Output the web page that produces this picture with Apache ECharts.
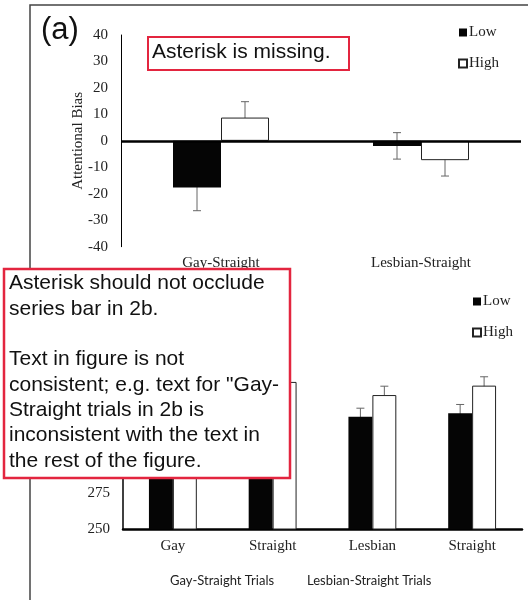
<!DOCTYPE html>
<html>
<head>
<meta charset="utf-8">
<script src="https://cdn.jsdelivr.net/npm/echarts@6/dist/echarts.min.js"></script>
<style>
  html, body { margin: 0; padding: 0; background: #fff; }
  #chart { width: 528px; height: 600px; }
</style>
</head>
<body>
<div id="chart"></div>
<script>
// panel (a): attentional bias
const catsA = ["Gay-Straight", "Lesbian-Straight"];
const lowA = [-17.6, -1.9];
const lowErrA = [8.8, 5.0];
const highA = [8.8, -7.3];
const highErrA = [6.0, 6.0];
const ticksA = { min: -40, max: 40, step: 10 };

// panel (b): reaction times
const catsB = ["Gay", "Straight", "Lesbian", "Straight"];
const lowB = [322, 334, 328.6, 331];
const lowErrB = [6, 6, 6, 6.2];
const highB = [342, 353, 343.8, 350.4];
const highErrB = [6, 6, 6.2, 6.2];
const ticksB = { min: 250, max: 400, step: 25 };

const groupLabels = ["Gay-Straight Trials", "Lesbian-Straight Trials"];
const note1 = "Asterisk is missing.";
const note2 = [
  "Asterisk should not occlude",
  "series bar in 2b.",
  "",
  "Text in figure is not",
  "consistent; e.g. text for \"Gay-",
  "Straight trials in 2b is",
  "inconsistent with the text in",
  "the rest of the figure."
];

const serif = "Liberation Serif";
const sans = "Liberation Sans";
const red = "#e3253f";

// error bars drawn next to the bar centre (barWidth 24%, barGap 0)
function errBar(sign) {
  return function (params, api) {
    const x = api.value(0), m = api.value(1), e = api.value(2);
    const band = api.size([1, 0])[0];
    const cx = api.coord([x, m])[0] + sign * band * 0.12;
    const yt = api.coord([x, m + e])[1];
    const yb = api.coord([x, m - e])[1];
    const st = { stroke: "#666", lineWidth: 1 };
    return {
      type: "group",
      children: [
        { type: "line", shape: { x1: cx, y1: yt, x2: cx, y2: yb }, style: st },
        { type: "line", shape: { x1: cx - 4, y1: yt, x2: cx + 4, y2: yt }, style: st },
        { type: "line", shape: { x1: cx - 4, y1: yb, x2: cx + 4, y2: yb }, style: st }
      ]
    };
  };
}

const lowStyle = { color: "#050505" };
const highStyle = { color: "#fff", borderColor: "#222", borderWidth: 1 };
const tickFont = { fontFamily: serif, fontSize: 15, color: "#222" };

const chart = echarts.init(document.getElementById("chart"));
const option = {
  animation: false,
  grid: [
    { left: 121, top: 35, width: 400, height: 211.7 },
    { left: 123, top: 314.8, width: 399, height: 214.2 }
  ],
  legend: [
    {
      data: ["Low", "High"], orient: "vertical", left: 453, top: 20,
      itemWidth: 8, itemHeight: 8, itemGap: 16, icon: "rect",
      textStyle: { fontFamily: serif, fontSize: 15, color: "#222", padding: [0, 0, 0, -3] }
    },
    {
      data: ["Low", "High"], orient: "vertical", left: 467, top: 289,
      itemWidth: 8, itemHeight: 8, itemGap: 16, icon: "rect",
      textStyle: { fontFamily: serif, fontSize: 15, color: "#222", padding: [0, 0, 0, -3] }
    }
  ],
  xAxis: [
    {
      type: "category", gridIndex: 0, data: catsA,
      axisLine: { show: false }, axisTick: { show: false },
      axisLabel: Object.assign({ margin: 9 }, tickFont)
    },
    {
      type: "category", gridIndex: 1, data: catsB,
      axisLine: { lineStyle: { color: "#000", width: 2.5 } }, axisTick: { show: false },
      axisLabel: Object.assign({ margin: 10 }, tickFont)
    }
  ],
  yAxis: [
    {
      type: "value", gridIndex: 0, min: ticksA.min, max: ticksA.max, interval: ticksA.step,
      name: "Attentional Bias", nameLocation: "middle", nameGap: 35, nameMoveOverlap: false,
      nameTextStyle: { fontFamily: serif, fontSize: 15, color: "#222" },
      axisLine: { show: true, lineStyle: { color: "#000", width: 1 } },
      axisTick: { show: false }, splitLine: { show: false },
      axisLabel: Object.assign({ margin: 13 }, tickFont)
    },
    {
      type: "value", gridIndex: 1, min: ticksB.min, max: ticksB.max, interval: ticksB.step,
      axisLine: { show: true, lineStyle: { color: "#000", width: 1.5 } },
      axisTick: { show: false }, splitLine: { show: false },
      axisLabel: Object.assign({ margin: 13 }, tickFont)
    }
  ],
  series: [
    {
      name: "Low", type: "bar", xAxisIndex: 0, yAxisIndex: 0, data: lowA,
      barWidth: "24%", barGap: 0, itemStyle: lowStyle,
      markLine: {
        symbol: "none", silent: true, label: { show: false },
        lineStyle: { color: "#000", width: 2.5, type: "solid" },
        data: [{ yAxis: 0 }]
      }
    },
    {
      name: "High", type: "bar", xAxisIndex: 0, yAxisIndex: 0, data: highA,
      barWidth: "24%", barGap: 0, itemStyle: highStyle
    },
    {
      type: "custom", xAxisIndex: 0, yAxisIndex: 0, renderItem: errBar(-1),
      encode: { x: 0, y: 1 }, data: lowA.map((v, i) => [i, v, lowErrA[i]])
    },
    {
      type: "custom", xAxisIndex: 0, yAxisIndex: 0, renderItem: errBar(1),
      encode: { x: 0, y: 1 }, data: highA.map((v, i) => [i, v, highErrA[i]])
    },
    {
      name: "Low", type: "bar", xAxisIndex: 1, yAxisIndex: 1, data: lowB,
      barWidth: "24%", barGap: 0, itemStyle: lowStyle
    },
    {
      name: "High", type: "bar", xAxisIndex: 1, yAxisIndex: 1, data: highB,
      barWidth: "24%", barGap: 0, itemStyle: highStyle
    },
    {
      type: "custom", xAxisIndex: 1, yAxisIndex: 1, renderItem: errBar(-1),
      encode: { x: 0, y: 1 }, data: lowB.map((v, i) => [i, v, lowErrB[i]])
    },
    {
      type: "custom", xAxisIndex: 1, yAxisIndex: 1, renderItem: errBar(1),
      encode: { x: 0, y: 1 }, data: highB.map((v, i) => [i, v, highErrB[i]])
    }
  ],
  graphic: [
    // figure frame
    {
      type: "polyline", z: 1, silent: true,
      shape: { points: [[30, 600], [30, 5], [528, 5]] },
      style: { stroke: "#444", lineWidth: 1.5, fill: null }
    },
    {
      type: "text", left: 41, top: 15, z: 5,
      style: { text: "(a)", font: "31px " + sans, fill: "#111" }
    },
    {
      type: "text", left: 170, top: 574, z: 5,
      style: { text: groupLabels[0], font: "13px Lato", fill: "#222" }
    },
    {
      type: "text", left: 307, top: 574, z: 5,
      style: { text: groupLabels[1], font: "13px Lato", fill: "#222" }
    },
    // review notes, drawn above the chart
    {
      type: "rect", z: 100, zlevel: 1, shape: { x: 148, y: 37, width: 201, height: 33 },
      style: { fill: "#fff", stroke: red, lineWidth: 2 }
    },
    {
      type: "text", z: 101, zlevel: 1, x: 152, y: 42,
      style: { text: note1, font: "21px " + sans, fill: "#111" }
    },
    {
      type: "rect", z: 100, zlevel: 1, shape: { x: 4, y: 269, width: 286, height: 209 },
      style: { fill: "#fff", stroke: red, lineWidth: 2.5 }
    },
    {
      type: "text", z: 101, zlevel: 1, x: 9, y: 271,
      style: { text: note2.join("\n"), font: "21px " + sans, lineHeight: 25.3, fill: "#111" }
    }
  ]
};
chart.setOption(option);
</script>
</body>
</html>
